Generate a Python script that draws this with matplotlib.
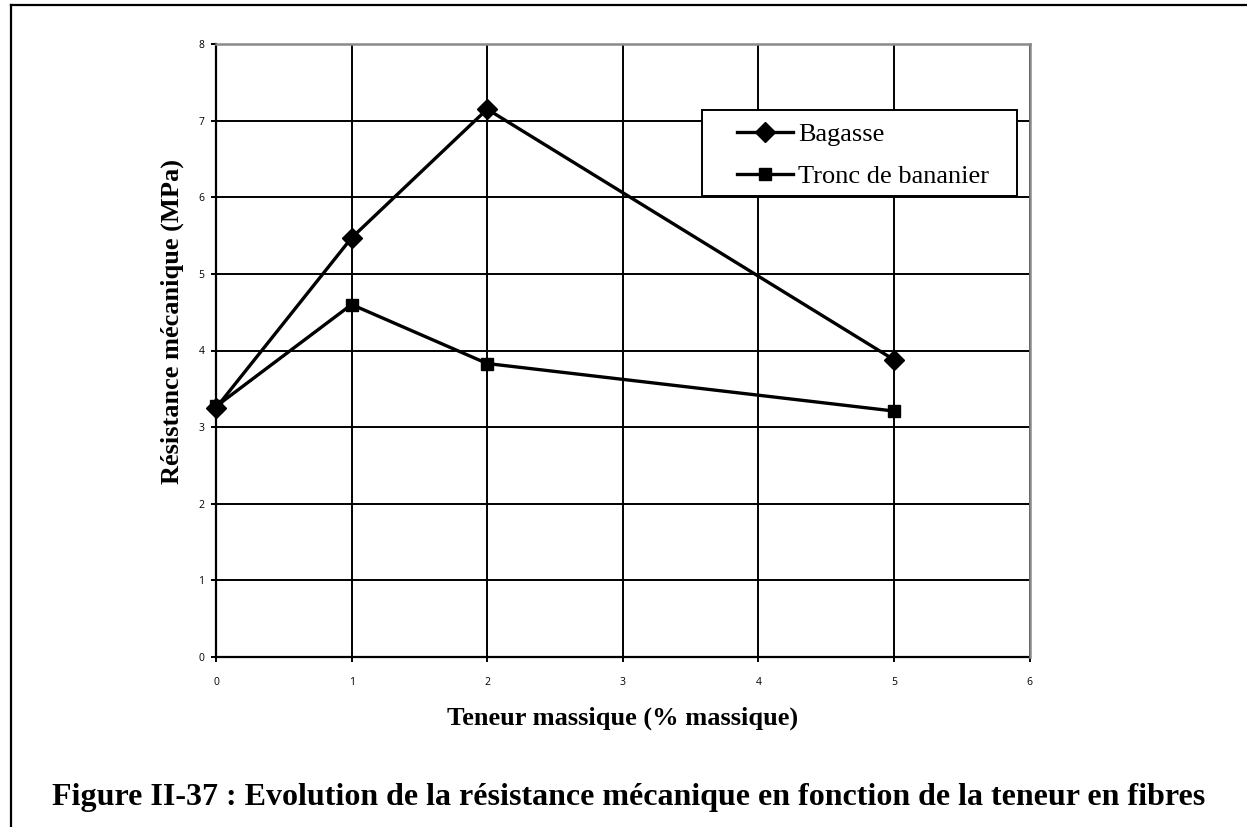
import matplotlib
matplotlib.use("Agg")
import matplotlib.pyplot as plt
from matplotlib.lines import Line2D
from matplotlib.patches import Rectangle

# Fibre content (% by mass) and mechanical strength (MPa)
teneur = [0, 1, 2, 5]
bagasse = [3.25, 5.47, 7.15, 3.88]
tronc_bananier = [3.27, 4.60, 3.83, 3.21]
series_labels = ["Bagasse", "Tronc de bananier"]

x_ticks = [0, 1, 2, 3, 4, 5, 6]
y_ticks = [0, 1, 2, 3, 4, 5, 6, 7, 8]

W, H = 1247, 827
fig = plt.figure(figsize=(W / 100, H / 100), dpi=100)
fig.patch.set_facecolor("white")

def fx(px):
    return px / W

def fy(py):
    return 1 - py / H

# Page frame (left and top rules)
fig.add_artist(Line2D([fx(10.5), fx(10.5)], [fy(4.5), fy(H + 5)], color="black", lw=1.6))
fig.add_artist(Line2D([fx(10.5), fx(W + 5)], [fy(4.5), fy(4.5)], color="black", lw=1.6))

ax_left, ax_right, ax_top, ax_bottom = 216, 1029.5, 44, 657
ax = fig.add_axes([fx(ax_left), fy(ax_bottom), fx(ax_right) - fx(ax_left), fy(ax_top) - fy(ax_bottom)])
ax.set_xlim(0, 6)
ax.set_ylim(0, 8)
ax.set_xticks(x_ticks)
ax.set_yticks(y_ticks)

ax.grid(True, color="black", lw=1.4)
ax.set_axisbelow(True)
for side in ("left", "bottom"):
    ax.spines[side].set_color("black")
    ax.spines[side].set_linewidth(1.6)
for side in ("top", "right"):
    ax.spines[side].set_color("#8a8a8a")
    ax.spines[side].set_linewidth(1.8)
    ax.spines[side].set_zorder(3)

ax.tick_params(axis="both", direction="out", length=3.5, width=1.4, color="black")
ax.tick_params(axis="x", pad=11)
ax.tick_params(axis="y", pad=5)
for lbl in ax.get_xticklabels() + ax.get_yticklabels():
    lbl.set_fontfamily("Open Sans")
    lbl.set_fontsize(7.5)

l1, = ax.plot(teneur, bagasse, color="black", lw=2.4, marker="D", ms=10.5,
              label=series_labels[0], zorder=5, clip_on=False)
l2, = ax.plot(teneur, tronc_bananier, color="black", lw=2.4, marker="s", ms=8.0,
              label=series_labels[1], zorder=4, clip_on=False)

serif = "Liberation Serif"
ax_w = ax_right - ax_left
ax_h = ax_bottom - ax_top
fig.text(fx((ax_left + ax_right) / 2), fy(725), "Teneur massique (% massique)",
         ha="center", va="baseline", fontfamily=serif, fontweight="bold", fontsize=19)
ax.set_ylabel("Résistance mécanique (MPa)", fontfamily=serif, fontweight="bold",
              fontsize=19, va="center")
ax.yaxis.set_label_coords(-(ax_left - 172) / ax_w, (ax_bottom - 322) / ax_h)

# Legend with a plain rectangular border
fig.add_artist(Rectangle((fx(702), fy(196)), fx(1017) - fx(702), fy(110) - fy(196),
                         transform=fig.transFigure, facecolor="white",
                         edgecolor="black", lw=1.4, zorder=6))
leg = fig.legend(handles=[l1, l2], loc="upper left",
                 bbox_to_anchor=(fx(732), fy(117)), frameon=False,
                 prop={"family": serif, "size": 19},
                 handlelength=2.1, handletextpad=0.2, labelspacing=0.72,
                 borderpad=0.2, borderaxespad=0)
leg.set_zorder(7)

fig.text(0.5 * (fx(52) + fx(1205)), fy(805),
         "Figure II-37 : Evolution de la résistance mécanique en fonction de la teneur en fibres",
         ha="center", va="baseline", fontfamily=serif, fontweight="bold", fontsize=23)

fig.savefig("out.png", dpi=100)
